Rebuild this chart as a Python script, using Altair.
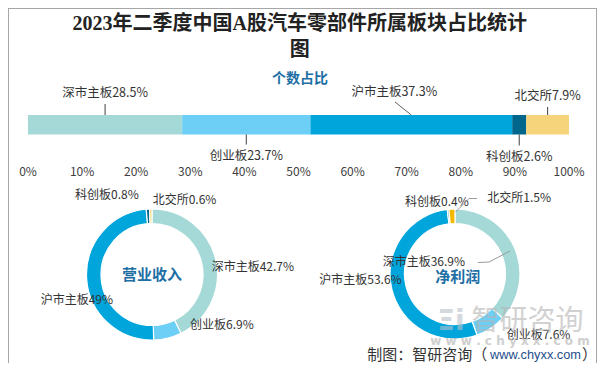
import altair as alt
import pandas as pd

# ---------------- data ----------------
categories = ["深市主板", "创业板", "沪市主板", "科创板", "北交所"]
count_share = [28.5, 23.7, 37.3, 2.6, 7.9]      # 个数占比
revenue_share = [42.7, 6.9, 49.0, 0.8, 0.6]     # 营业收入
profit_share = [36.9, 7.6, 53.6, 0.4, 1.5]      # 净利润
tick_values = [0, 10, 20, 30, 40, 50, 60, 70, 80, 90, 100]
tick_labels = [f"{t}%" for t in tick_values]

title_lines = ["2023年二季度中国A股汽车零部件所属板块占比统计", "图"]
subtitle = "个数占比"
donut_titles = ["营业收入", "净利润"]
footer_parts = ["制图：智研咨询（", "www.chyxx.com", "）"]
watermark = ["智研咨询", "w w w . c h y x x . c o m"]

# ---------------- styles / layout ----------------
colors_main = ["#a4d9d7", "#6dcff6", "#00a5dc", "#00668c", "#f6d47c"]
colors_profit = ["#a4d9d7", "#6dcff6", "#00a5dc", "#00668c", "#f5b800"]
FONT = "Noto Sans CJK SC"
TITLE_FONT = "Liberation Serif, Noto Sans CJK SC"
ACCENT = "#1c6ea4"
TEXT = "#333333"
M = 8  # page margin


def px(v):
    return v - M


W, H = 589, 355

# bar label layout (page coords): label y, label dx, leader line y range
bar_label_y = [93.3, 156.0, 91.7, 156.5, 95.7]
bar_label_dx = [0, 0, -17, 0, 0]
bar_line_y = [(104, 115), (134.5, 144.5), (102, 115), (134.5, 145.5), (107, 115)]
bar_line_x2 = [None, None, 395, None, None]

# donut layout (page coords)
rev_center, rev_r = (152, 274.5), (65.5, 51)
pro_center, pro_r = (455, 274), (65, 50.5)
rev_label_pos = [(211.7, 267.3), (190, 325), (40.7, 300), (75, 195), (152.7, 200)]
pro_label_pos = [(382.7, 261.7), (506.7, 335), (319.3, 280), (405, 201.7), (487.3, 198.3)]
pro_leaders = [(455.5, 212, 469, 198.5), (469, 198.5, 477, 198.5),
               (478, 262.5, 489, 262), (489, 262, 510, 251)]


def fmt(v):
    return f"{v:g}%"


def frame(values):
    d = pd.DataFrame({"cat": categories, "v": values, "order": list(range(len(values)))})
    d["end"] = d["v"].cumsum()
    d["start"] = d["end"] - d["v"]
    d["mid"] = d["start"] + d["v"] / 2
    d["label"] = [c + fmt(v) for c, v in zip(categories, values)]
    return d


bar_df = frame(count_share)
rev_df = frame(revenue_share)
pro_df = frame(profit_share)

xs = alt.Scale(domain=[0, 100], range=[px(28), px(569)], zero=False, nice=False)
one = pd.DataFrame({"a": [0]})


def text_layer(txt, x, y, size=12, color=TEXT, align="center", weight="normal", font=FONT, opacity=1.0):
    return alt.Chart(pd.DataFrame({"t": [txt]})).mark_text(
        font=font, fontSize=size, color=color, align=align, baseline="middle",
        fontWeight=weight, opacity=opacity
    ).encode(x=alt.value(px(x)), y=alt.value(px(y)), text="t:N")


def seg(x1, y1, x2, y2, color="#9a9a9a"):
    return alt.Chart(one).mark_rule(color=color, strokeWidth=1).encode(
        x=alt.value(px(x1)), y=alt.value(px(y1)), x2=alt.value(px(x2)), y2=alt.value(px(y2))
    )


layers = []

# frame (left, top, right)
layers.append(alt.Chart(one).mark_rule(color="#a6a6a6", strokeWidth=1).encode(
    x=alt.value(0.5), y=alt.value(0.5), y2=alt.value(H)))
layers.append(alt.Chart(one).mark_rule(color="#a6a6a6", strokeWidth=1).encode(
    x=alt.value(0), x2=alt.value(W), y=alt.value(0.5)))
layers.append(alt.Chart(one).mark_rule(color="#a6a6a6", strokeWidth=1).encode(
    x=alt.value(W - 0.5), y=alt.value(0), y2=alt.value(H)))

# title
layers.append(text_layer(title_lines[0], 299.7, 24, size=20, color="#222222", weight="bold", font=TITLE_FONT))
layers.append(text_layer(title_lines[1], 299.7, 50, size=20, color="#222222", weight="bold", font=TITLE_FONT))
layers.append(text_layer(subtitle, 300, 79, size=14, color=ACCENT, weight="bold"))

# stacked bar
layers.append(alt.Chart(bar_df).mark_bar().encode(
    x=alt.X("start:Q", scale=xs, axis=None),
    x2="end:Q",
    y=alt.value(px(115)), y2=alt.value(px(134.5)),
    color=alt.Color("cat:N", scale=alt.Scale(domain=categories, range=colors_main), legend=None),
))

# tick labels
tick_df = pd.DataFrame({"t": tick_values, "lab": tick_labels})
layers.append(alt.Chart(tick_df).mark_text(font=FONT, fontSize=12, color="#404040", baseline="middle").encode(
    x=alt.X("t:Q", scale=xs, axis=None), y=alt.value(px(172)), text="lab:N"))

# bar labels and leader lines
for i in range(len(categories)):
    row = bar_df.iloc[[i]]
    layers.append(alt.Chart(row).mark_text(
        font=FONT, fontSize=12.5, color=TEXT, baseline="middle", dx=bar_label_dx[i]
    ).encode(x=alt.X("mid:Q", scale=xs, axis=None), y=alt.value(px(bar_label_y[i])), text="label:N"))
    y1, y2 = bar_line_y[i]
    if bar_line_x2[i] is None:
        layers.append(alt.Chart(row).mark_rule(color="#404040", strokeWidth=1).encode(
            x=alt.X("mid:Q", scale=xs, axis=None), y=alt.value(px(y1)), y2=alt.value(px(y2))))
    else:
        layers.append(alt.Chart(row).mark_rule(color="#606060", strokeWidth=1).encode(
            x=alt.X("mid:Q", scale=xs, axis=None), x2=alt.value(px(bar_line_x2[i])),
            y=alt.value(px(y2)), y2=alt.value(px(y1))))


def donut(df, center, radii, colors):
    return alt.Chart(df).mark_arc(
        outerRadius=radii[0], innerRadius=radii[1], stroke="white", strokeWidth=1.2
    ).encode(
        theta=alt.Theta("v:Q", stack=True),
        order=alt.Order("order:Q"),
        color=alt.Color("cat:N", scale=alt.Scale(domain=categories, range=colors), legend=None),
        x=alt.value(px(center[0])), y=alt.value(px(center[1])),
    )


layers.append(donut(rev_df, rev_center, rev_r, colors_main))
layers.append(donut(pro_df, pro_center, pro_r, colors_profit))

for i in range(len(categories)):
    x, y = rev_label_pos[i]
    layers.append(text_layer(rev_df["label"][i], x, y, size=12, align="left"))
    x, y = pro_label_pos[i]
    layers.append(text_layer(pro_df["label"][i], x, y, size=12, align="left"))

for s in pro_leaders:
    layers.append(seg(*s))

layers.append(text_layer(donut_titles[0], 152, 275, size=15, color=ACCENT, weight="bold"))
layers.append(text_layer(donut_titles[1], 457.7, 277.3, size=15, color=ACCENT, weight="bold"))

# watermark
layers.append(text_layer("Ξi", 451, 322, size=28, color="#b8c0cc", weight="bold", font="DejaVu Sans", opacity=0.6))
layers.append(text_layer(watermark[0], 527.4, 322, size=28, color="#b4b4b4", opacity=0.6))
layers.append(text_layer(watermark[1], 510, 341, size=12, color="#c4c4c4", weight="bold", font="DejaVu Sans", opacity=0.8))

# footer
layers.append(text_layer(footer_parts[0], 367.3, 355, size=15, color="#333333", align="left"))
layers.append(text_layer(footer_parts[1], 490, 355, size=12.8, color="#1f4e8c", align="left", font="Liberation Sans"))
layers.append(text_layer(footer_parts[2], 582, 355, size=15, color="#333333", align="left"))

chart = alt.layer(*layers).resolve_scale(
    color="independent", theta="independent"
).properties(
    width=W, height=H, padding=0, autosize=alt.AutoSizeParams(type="none")
).configure_view(strokeWidth=0)

chart.save("out.html", embed_options={"renderer": "svg", "actions": False})
